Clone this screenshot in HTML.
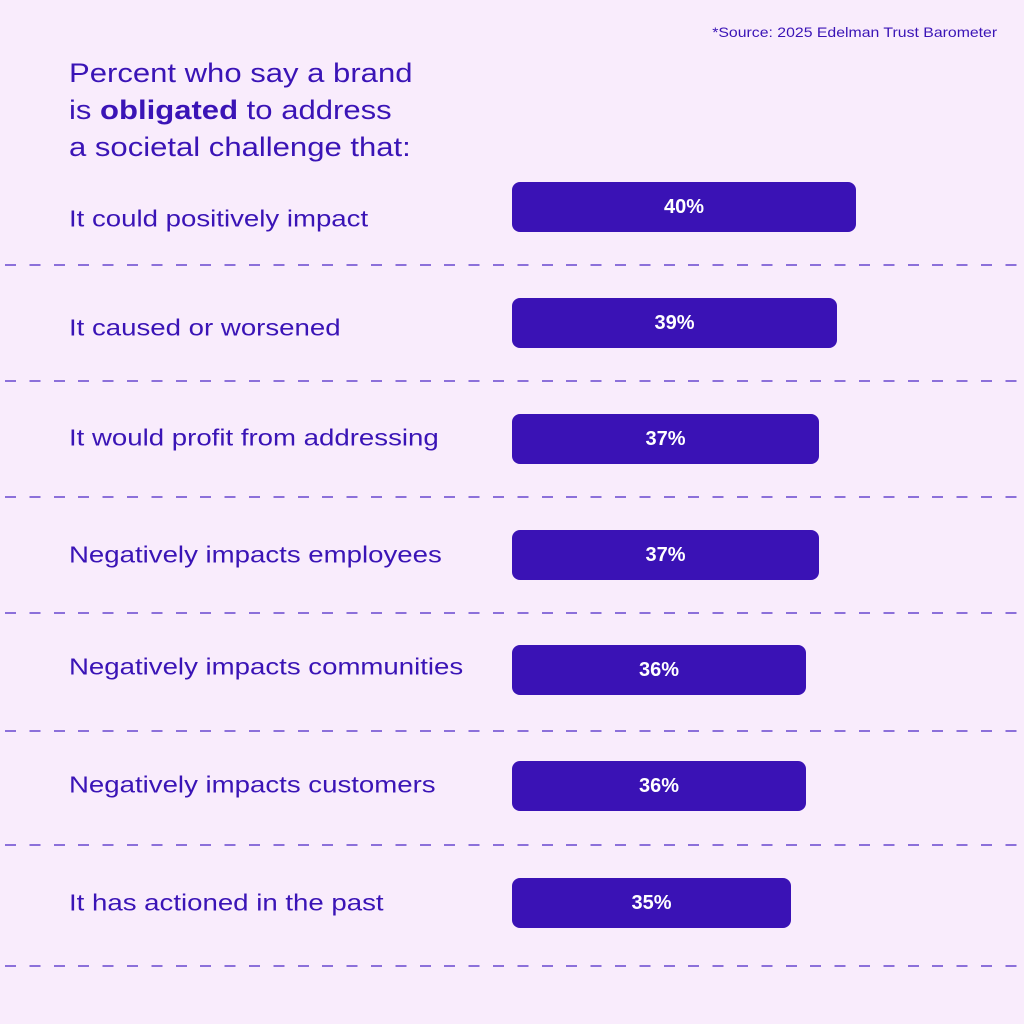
<!DOCTYPE html>
<html><head><meta charset="utf-8"><style>
body{margin:0;width:1024px;height:1024px;background:#f9ecfc;position:relative;overflow:hidden;font-family:"Liberation Sans",sans-serif;color:#3a14b6}
.src{position:absolute;right:27px;top:24px;font-size:14px;transform:scaleX(1.13);transform-origin:right top}
.title{position:absolute;left:69px;top:55px;font-size:27px;line-height:37px;transform:scaleX(1.15);transform-origin:left top}
.lab{position:absolute;left:69px;font-size:23px;transform:translateY(-50%) scaleX(1.2);transform-origin:left center}
.bar{position:absolute;left:512px;height:50px;background:#3a12b5;border-radius:8px;color:#fff;font-weight:bold;font-size:20px;display:flex;align-items:center;justify-content:center}
.dash{position:absolute;left:0;width:1024px;height:2px;background:repeating-linear-gradient(90deg,transparent 0 5px,#8c70da 5px 16px,transparent 16px 24.4px)}
</style></head><body>
<div class="src">*Source: 2025 Edelman Trust Barometer</div>
<div class="title">Percent who say a brand<br>is <b>obligated</b> to address<br>a societal challenge that:</div>

<div class="lab" style="top:219px">It could positively impact</div>
<div class="bar" style="top:182px;width:344px">40%</div>
<div class="dash" style="top:264px"></div>

<div class="lab" style="top:328px">It caused or worsened</div>
<div class="bar" style="top:298px;width:325px">39%</div>
<div class="dash" style="top:380px"></div>

<div class="lab" style="top:438px">It would profit from addressing</div>
<div class="bar" style="top:414px;width:307px">37%</div>
<div class="dash" style="top:496px"></div>

<div class="lab" style="top:555px">Negatively impacts employees</div>
<div class="bar" style="top:530px;width:307px">37%</div>
<div class="dash" style="top:612px"></div>

<div class="lab" style="top:667px">Negatively impacts communities</div>
<div class="bar" style="top:645px;width:294px">36%</div>
<div class="dash" style="top:730px"></div>

<div class="lab" style="top:785px">Negatively impacts customers</div>
<div class="bar" style="top:761px;width:294px">36%</div>
<div class="dash" style="top:844px"></div>

<div class="lab" style="top:903px">It has actioned in the past</div>
<div class="bar" style="top:878px;width:279px">35%</div>
<div class="dash" style="top:965px"></div>
</body></html>
